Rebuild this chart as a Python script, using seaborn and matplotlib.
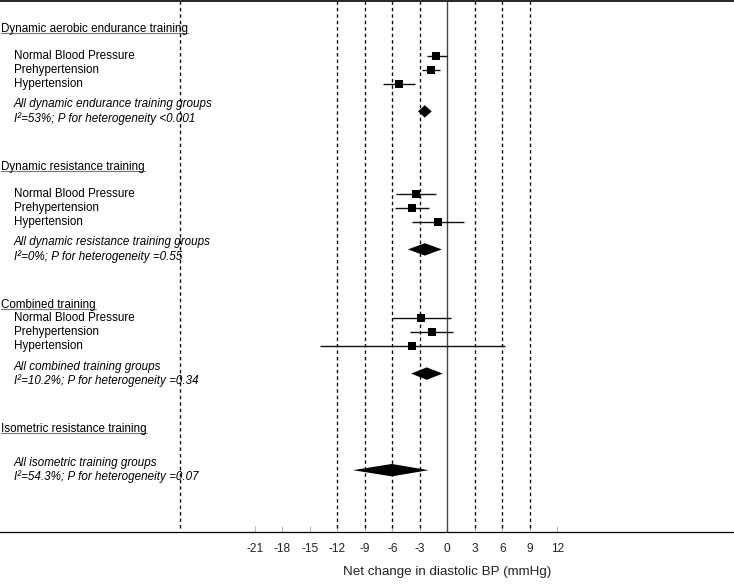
import matplotlib
matplotlib.use("Agg")
import numpy as np
import pandas as pd
import matplotlib.pyplot as plt
import seaborn as sns

# ---- data (net change in diastolic BP, mmHg) ----
section_names = ["Dynamic aerobic endurance training",
                 "Dynamic resistance training",
                 "Combined training",
                 "Isometric resistance training"]
subgroup_names = ["Normal Blood Pressure", "Prehypertension", "Hypertension"]

aerobic_est = [-1.2, -1.8, -5.3]
aerobic_lo = [-2.2, -2.8, -7.0]
aerobic_hi = [-0.05, -0.75, -3.5]

resistance_est = [-3.4, -3.85, -1.05]
resistance_lo = [-5.6, -5.7, -3.9]
resistance_hi = [-1.25, -1.95, 1.8]

combined_est = [-2.85, -1.7, -3.85]
combined_lo = [-6.05, -4.05, -13.95]
combined_hi = [0.45, 0.65, 6.3]

pooled_labels = ["All dynamic endurance training groups",
                 "All dynamic resistance training groups",
                 "All combined training groups",
                 "All isometric training groups"]
heterogeneity = ["I²=53%; P for heterogeneity <0.001",
                 "I²=0%; P for heterogeneity =0.55",
                 "I²=10.2%; P for heterogeneity =0.34",
                 "I²=54.3%; P for heterogeneity =0.07"]
pooled_est = [-2.45, -2.45, -2.25, -6.05]
pooled_lo = [-3.2, -4.3, -3.95, -10.3]
pooled_hi = [-1.7, -0.6, -0.5, -2.05]

ref_lines = [-29.2, -12, -9, -6, -3, 3, 6, 9]
tick_values = list(range(-21, 13, 3))

# ---- layout (rows from the top) ----
header_rows = [2, 12, 22, 31]
first_sub_rows = [4, 14, 23]
pooled_rows = [8, 18, 27, 34]

sub = pd.DataFrame({
    "est": aerobic_est + resistance_est + combined_est,
    "lo": aerobic_lo + resistance_lo + combined_lo,
    "hi": aerobic_hi + resistance_hi + combined_hi,
    "group": subgroup_names * 3,
    "row": [r + i for r in first_sub_rows for i in range(3)],
})

sns.set_theme(style="white")
plt.rcParams["font.family"] = ["Liberation Sans", "DejaVu Sans"]

fig = plt.figure(figsize=(7.34, 5.85), dpi=100)
ax = fig.add_axes([0, 53 / 585, 1, 531 / 585])
ax.set_xlim(-48.83, 31.3)
ax.set_ylim(38.48, 0)

for v in ref_lines:
    ax.axvline(v, ymin=0.008, color="black", lw=0.95, ls=(0, (2.6, 2.3)), zorder=1)
ax.axvline(0, color="#444444", lw=1.0, zorder=1)

ax.hlines(sub["row"], sub["lo"], sub["hi"], color="#111111", lw=1.0, zorder=2)
sns.scatterplot(data=sub, x="est", y="row", marker="s", s=30, color="black",
                linewidth=0, legend=False, ax=ax, zorder=3)

h = 0.45
for r, e, lo, hi in zip(pooled_rows, pooled_est, pooled_lo, pooled_hi):
    ax.fill([lo, e, hi, e], [r, r - h, r, r + h], color="black", lw=0, zorder=3)

trans = ax.get_yaxis_transform()
fs = 8.4
headers = []
for name, r in zip(section_names, header_rows):
    headers.append(ax.text(1 / 734, r, name, transform=trans, fontsize=fs,
                           va="center", ha="left", color="black"))
for _, row in sub.iterrows():
    ax.text(14 / 734, row["row"], row["group"], transform=trans, fontsize=fs,
            va="center", ha="left", color="black")
for lab, het, r in zip(pooled_labels, heterogeneity, pooled_rows):
    ax.text(14 / 734, r - 0.5, lab, transform=trans, fontsize=fs, style="italic",
            va="center", ha="left", color="black")
    ax.text(14 / 734, r + 0.5, het, transform=trans, fontsize=fs, style="italic",
            va="center", ha="left", color="black")

ax.set_xticks(tick_values)
ax.set_xticklabels([str(t) for t in tick_values])
ax.set_yticks([])
ax.tick_params(axis="x", direction="in", length=4, width=0.8, color="#bbbbbb",
               labelsize=8.6, pad=8, labelcolor="#222222", bottom=True)
ax.set_xlabel("")
ax.set_ylabel("")
ax.text(0, -0.0753, "Net change in diastolic BP (mmHg)", transform=ax.get_xaxis_transform(),
        ha="center", va="center", fontsize=9.6, color="#222222")

for side in ["left", "right"]:
    ax.spines[side].set_visible(False)
ax.spines["top"].set_color("black")
ax.spines["top"].set_linewidth(1.2)
ax.spines["bottom"].set_color("black")
ax.spines["bottom"].set_linewidth(0.9)

# underline the section headers
fig.canvas.draw()
renderer = fig.canvas.get_renderer()
inv = ax.transAxes.inverted()
for t in headers:
    bb = t.get_window_extent(renderer)
    yb = bb.y0 + 1.3
    (x0, y0), (x1, _) = inv.transform([[bb.x0, yb], [bb.x1, yb]])
    ax.plot([x0, x1], [y0, y0], transform=ax.transAxes, color="#777777", lw=0.8,
            clip_on=False, zorder=2)

fig.savefig("out.png", dpi=100)
